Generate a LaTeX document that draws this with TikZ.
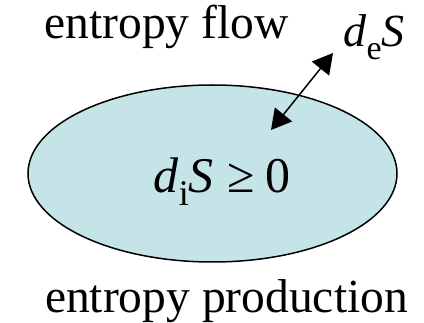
\documentclass[tikz,border=0pt]{standalone}
\usepackage{fontspec}
\setmainfont{Liberation Serif}
\usetikzlibrary{shapes.geometric,arrows.meta}
\definecolor{sysfill}{RGB}{197,228,232}
\tikzset{
 lbl/.style={inner sep=0pt, anchor=base, font=\fontsize{47.5}{50}\selectfont},
 mathlbl/.style={inner sep=0pt, anchor=base},
 sysbox/.style={ellipse, draw=black, line width=1.5pt, fill=sysfill, inner sep=0pt},
 flowarrow/.style={line width=1.5pt, {Triangle[length=20pt,width=22pt]}-{Triangle[length=20pt,width=22pt]}}
}
\begin{document}
\begin{tikzpicture}[x=1pt,y=-1pt]
\useasboundingbox (0,0) rectangle (424,323);
\node[sysbox, minimum width=369pt, minimum height=177pt] (sys) at (212.5,173.5) {};
\node[lbl] (flow) at (166.5,39) {entropy flow};
\node[lbl] (prod) at (226.5,313) {entropy production};
\node[mathlbl, font=\fontsize{50}{52}\selectfont] (di) at (222,193) {\textit{d}\raisebox{-0.25em}{\fontsize{36}{36}\selectfont i}\textit{S}\hspace{0.28em}≥\hspace{0.2em}0};
\node[mathlbl, font=\fontsize{46}{48}\selectfont] (de) at (374,47) {\textit{d}\raisebox{-0.28em}{\fontsize{34}{34}\selectfont e}\textit{S}};
\coordinate (outer) at (333,53);
\coordinate (inner) at (271,130);
\draw[flowarrow] (inner) -- (outer);
\end{tikzpicture}
\end{document}
